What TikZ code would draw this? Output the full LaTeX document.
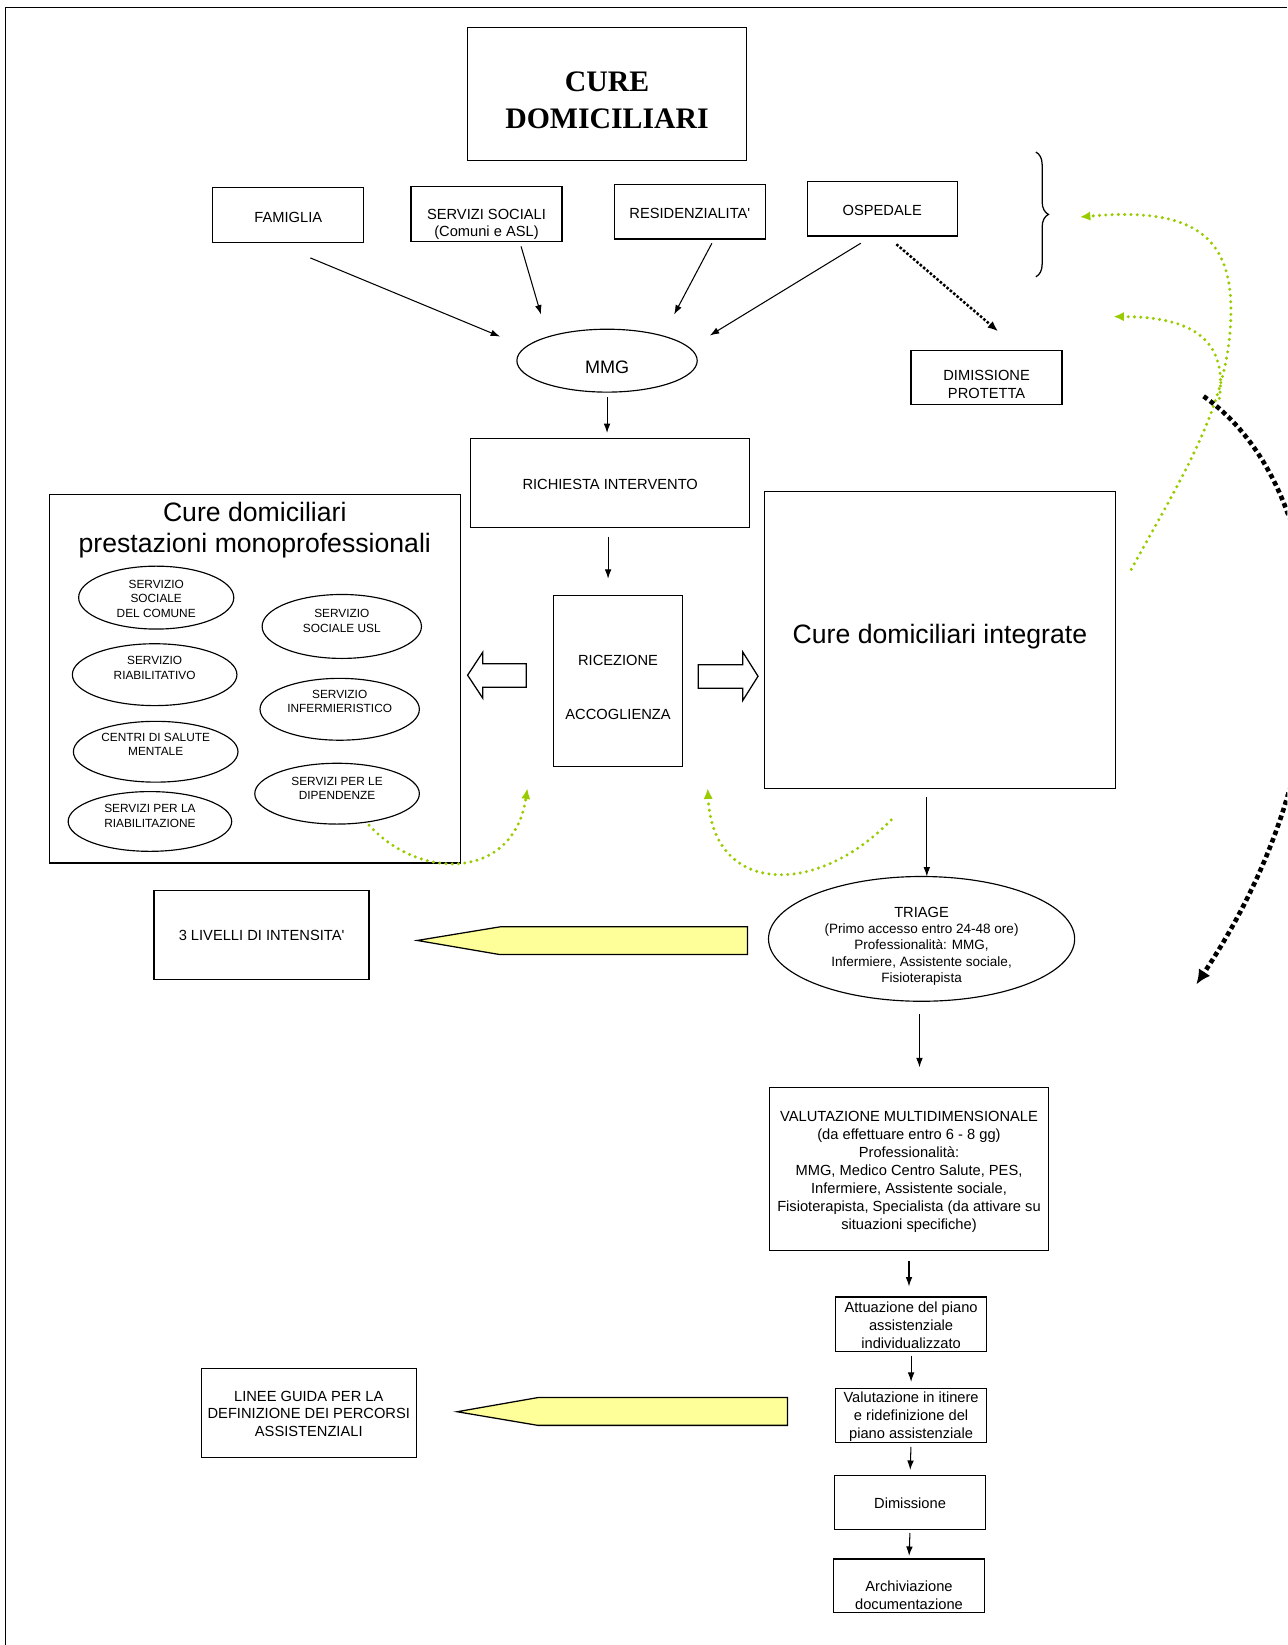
\documentclass[tikz,border=0pt]{standalone}
\usepackage{fontspec}
\setmainfont{Liberation Sans}[Ligatures=TeXOff]
\newfontfamily\serifbold{Liberation Serif}[Ligatures=TeXOff]
\usepackage[dvipsnames]{xcolor}
\usepackage{tikz}
\usetikzlibrary{
  arrows.meta,
  calc,
  shapes.geometric,
  decorations.pathreplacing
}
\definecolor{LeafGreen}{HTML}{99CC00}
\definecolor{PaleYellow}{HTML}{FFFF99}
\newcommand{\boxfont}{\fontsize{7}{8.5}\selectfont}
\newcommand{\ovalfont}{\fontsize{5.65}{7}\selectfont}
\newcommand{\bigfont}{\fontsize{12.7}{14.5}\selectfont}
\newcommand{\smallfont}{\fontsize{6.45}{7.75}\selectfont}
\newcommand{\titfont}{\serifbold\bfseries\fontsize{14.2}{17.5}\selectfont}

\begin{document}
\begin{tikzpicture}[x=0.5pt, y=-0.5pt,
  box/.style    = {draw, line width=0.6pt, inner sep=0pt, outer sep=0pt, align=center, font=\boxfont},
  oval/.style   = {ellipse, draw, line width=0.55pt, inner sep=0pt, outer sep=0pt, align=center, font=\ovalfont},
  txt/.style    = {inner sep=0pt, align=center, font=\boxfont},
  arr/.style    = {line width=0.5pt, -{Latex[length=4.5pt, width=3.2pt]}},
  dotarr/.style = {line width=1.2pt, dash pattern=on 1.2pt off 0.9pt, -{Latex[length=5pt, width=4pt]}},
  bigdot/.style = {line width=2.2pt, dash pattern=on 2.2pt off 1.6pt, -{Latex[length=7pt, width=6.5pt]}},
  feedback/.style = {draw=LeafGreen, line width=1.6pt, line cap=round, dash pattern=on 0pt off 3pt, -{Latex[length=5pt, width=4.5pt]}},
  pointer/.style  = {draw, line width=0.6pt, fill=PaleYellow},
  hollow/.style   = {draw, line width=0.6pt, fill=white}
]
  \useasboundingbox (0,0) rectangle (1228,1569);
  \clip (0,0) rectangle (1228,1569);

  % Frame
  \draw [line width=0.7pt] (5,1569) -- (5,7) -- (1228,7);

  % Title
  \node [box, minimum width=133pt, minimum height=63.5pt,
         label={[txt, font=\titfont, yshift=-3pt]center:{CURE\\DOMICILIARI}}] (title) at (579,89.5) {};

  % Sources of the request
  \node [box, minimum width=72pt,   minimum height=26pt,
         label={[txt, yshift=-1pt]center:FAMIGLIA}] (fam) at (275,205) {};
  \node [box, minimum width=72pt,   minimum height=26pt,
         label={[txt, yshift=-5pt]center:{SERVIZI SOCIALI\\(Comuni e ASL)}}] (sersoc) at (464,204) {};
  \node [box, minimum width=72pt,   minimum height=26pt,
         label={[txt, yshift=-1pt]center:{RESIDENZIALITA'}}] (resid) at (658,202) {};
  \node [box, minimum width=71.5pt, minimum height=26pt,
         label={[txt, yshift=-1pt]center:OSPEDALE}] (osped) at (841.5,199) {};
  \node [box, minimum width=72pt,   minimum height=26pt,
         label={[txt, yshift=-3.5pt]center:{DIMISSIONE\\PROTETTA}}] (dimiss) at (941,360) {};

  \draw [line width=0.6pt, decorate, decoration={brace, amplitude=6pt}] (988,145) -- (988,264);
  \coordinate (bracetip) at (1000,204);

  % MMG and request
  \node [oval, minimum width=86pt, minimum height=30pt,
         label={[txt, font=\fontsize{8.6}{10}\selectfont, yshift=-3pt]center:MMG}] (mmg) at (579,344) {};
  \node [box, minimum width=133pt, minimum height=42.5pt,
         label={[txt, yshift=-1pt]center:{RICHIESTA INTERVENTO}}] (rich) at (582,460.5) {};
  \node [box, minimum width=61.5pt, minimum height=81.5pt,
         label={[txt, yshift=-3pt]center:{RICEZIONE\\[17.5pt]ACCOGLIENZA}}] (ricez) at (589.5,649.5) {};

  \draw [arr] ($(fam.south)+(21,15)$)       -- ($(mmg.west)+(-16,-23)$);
  \draw [arr] ($(sersoc.south)+(33,5)$)     -- ($(mmg.north)+(-63,-14)$);
  \draw [arr] ($(resid.south)+(21,4)$)      -- ($(mmg.north)+(64,-14)$);
  \draw [arr] ($(osped.south)+(-20.5,7)$)   -- ($(mmg.east)+(12,-24)$);
  \draw [dotarr] ($(osped.south)+(13.5,8)$) -- ($(dimiss.north)+(11,-18)$);
  \draw [arr, shorten <=2.5pt, shorten >=2.5pt] (mmg.south) -- (mmg.south |- rich.north);
  \draw [arr, shorten <=4.5pt, shorten >=8pt] ([xshift=-1pt]rich.south) -- ([xshift=-1pt]rich.south |- ricez.north);

  % Cure domiciliari monoprofessionali
  \node [box, minimum width=196pt, minimum height=175.5pt,
         label={[txt, font=\bigfont, yshift=71pt]center:{Cure domiciliari\\prestazioni monoprofessionali}}] (mono) at (243,647.5) {};
  \node [oval, minimum width=74pt,   minimum height=30pt,
         label={[txt, font=\ovalfont, yshift=-0.5pt]center:{SERVIZIO\\SOCIALE\\DEL COMUNE}}]  (ssc)   at (149,570) {};
  \node [oval, minimum width=76pt,   minimum height=30.5pt,
         label={[txt, font=\ovalfont, yshift=2.75pt]center:{SERVIZIO\\SOCIALE USL}}]         (usl)   at (326,597.5) {};
  \node [oval, minimum width=78.5pt, minimum height=29.5pt,
         label={[txt, font=\ovalfont, yshift=3.25pt]center:{SERVIZIO\\RIABILITATIVO}}]       (riab)  at (147.5,643.5) {};
  \node [oval, minimum width=76pt,   minimum height=29.5pt,
         label={[txt, font=\ovalfont, yshift=3.75pt]center:{SERVIZIO\\INFERMIERISTICO}}]     (inf)   at (324,676.5) {};
  \node [oval, minimum width=78.5pt, minimum height=29pt,
         label={[txt, font=\ovalfont, yshift=3.5pt]center:{CENTRI DI SALUTE\\MENTALE}}]      (csm)   at (148.5,717) {};
  \node [oval, minimum width=78.5pt, minimum height=29pt,
         label={[txt, font=\ovalfont, yshift=2.5pt]center:{SERVIZI PER LE\\DIPENDENZE}}]     (dip)   at (321.5,757) {};
  \node [oval, minimum width=78pt,   minimum height=28.5pt,
         label={[txt, font=\ovalfont, yshift=2.75pt]center:{SERVIZI PER LA\\RIABILITAZIONE}}] (riabz) at (143,783.5) {};

  % Cure domiciliari integrate
  \node [box, minimum width=167.5pt, minimum height=141.5pt,
         label={[txt, font=\bigfont, yshift=1.75pt]center:{Cure domiciliari integrate}}] (cdi) at (896.5,610.5) {};

  % Block arrows
  \draw [hollow] (446,644) -- (460.5,622) -- (460.5,633) -- (502,633) -- (502,655.5) -- (460.5,655.5) -- (460.5,666) -- cycle;
  \draw [hollow] (723,645) -- (708.5,622) -- (708.5,634) -- (666,634) -- (666,656.5) -- (708.5,656.5) -- (708.5,668) -- cycle;

  % Triage and evaluation
  \node [oval, minimum width=146pt, minimum height=59.5pt,
         label={[txt, font=\smallfont, yshift=-3.5pt]center:{{\fontsize{7}{8}\selectfont TRIAGE}\\(Primo accesso entro 24-48 ore)\\Professionalità: MMG,\\Infermiere, Assistente sociale,\\Fisioterapista}}] (triage) at (879,895.5) {};
  \node [box, minimum width=133pt, minimum height=78pt,
         label={[txt, font=\fontsize{7}{8.6}\selectfont, yshift=-1.5pt]center:{VALUTAZIONE MULTIDIMENSIONALE\\(da effettuare entro 6 - 8 gg)\\Professionalità:\\MMG, Medico Centro Salute, PES,\\Infermiere, Assistente sociale,\\Fisioterapista, Specialista (da attivare su\\situazioni specifiche)}}] (val) at (867,1115) {};
  \node [box, minimum width=72pt, minimum height=26pt,
         label={[txt, yshift=-0.5pt]center:{Attuazione del piano\\assistenziale\\individualizzato}}] (att) at (869,1263) {};
  \node [box, minimum width=72pt, minimum height=26pt,
         label={[txt, yshift=-0.5pt]center:{Valutazione in itinere\\e ridefinizione del\\piano assistenziale}}] (itin) at (869,1350) {};
  \node [box, minimum width=72pt, minimum height=26pt,
         label={[txt, yshift=-0.5pt]center:Dimissione}] (dimi) at (868,1433) {};
  \node [box, minimum width=72pt, minimum height=25.5pt,
         label={[txt, yshift=-4.5pt]center:{Archiviazione\\documentazione}}] (arch) at (867,1512.5) {};

  \draw [arr, shorten <=4pt] ([xshift=-6.25pt]cdi.south) -- ([xshift=-6.25pt]cdi.south |- triage.north);
  \draw [arr, shorten <=6pt, shorten >=9.5pt] ([xshift=-1pt]triage.south) -- ([xshift=-1pt]triage.south |- val.north);
  \draw [arr, shorten <=5pt, shorten >=5pt]   (val.south)  -- (val.south |- att.north);
  \draw [arr, shorten <=2pt, shorten >=3pt]   (att.south)  -- (itin.north);
  \draw [arr, shorten <=2pt, shorten >=2.5pt] (itin.south) -- (dimi.north);
  \draw [arr, shorten <=1.5pt, shorten >=1.5pt] (dimi.south) -- (arch.north);

  % Side notes
  \node [box, minimum width=102.5pt, minimum height=42.5pt,
         label={[txt, yshift=-0.5pt]center:{3 LIVELLI DI INTENSITA'}}] (liv) at (249.5,891.5) {};
  \node [box, minimum width=102.5pt, minimum height=42.5pt,
         label={[txt, yshift=-0.5pt]center:{LINEE GUIDA PER LA\\DEFINIZIONE DEI PERCORSI\\ASSISTENZIALI}}] (lin) at (294.5,1347.5) {};
  \draw [pointer] (398,897)    -- (477,884)  -- (713,884)  -- (713,910.5)  -- (477,910.5)  -- cycle;
  \draw [pointer] (436,1346.5) -- (513,1333) -- (751,1333) -- (751,1359.5) -- (513,1359.5) -- cycle;

  % Feedback loops
  \coordinate (ret1) at ($(bracetip)+(30,3)$);
  \coordinate (ret2) at (1062,302);
  \draw [feedback] ($(dip.south)+(30.5,1)$) .. controls +(48,53) and +(-13,88) .. ($(ricez.south west)+(-25,21)$);
  \draw [feedback] ($(cdi.south west)+(121,30)$) .. controls +(-70,73) and +(5,103) .. ($(ricez.south east)+(24,21)$);
  \draw [feedback] ($(cdi.north east)+(15,74)$) .. controls (1130,450) and (1176,380) .. (1174,290)
                   .. controls (1172,220) and (1130,198) .. (ret1);
  \draw [feedback] (1163,380) .. controls (1170,330) and (1145,302) .. (ret2);

  % Return loop
  \coordinate (loopA) at (1148,378);
  \coordinate (loopB) at (1141,939);
  \draw [bigdot] (loopA) .. controls (1265,460) and (1300,700) .. (loopB);
\end{tikzpicture}
\end{document}
